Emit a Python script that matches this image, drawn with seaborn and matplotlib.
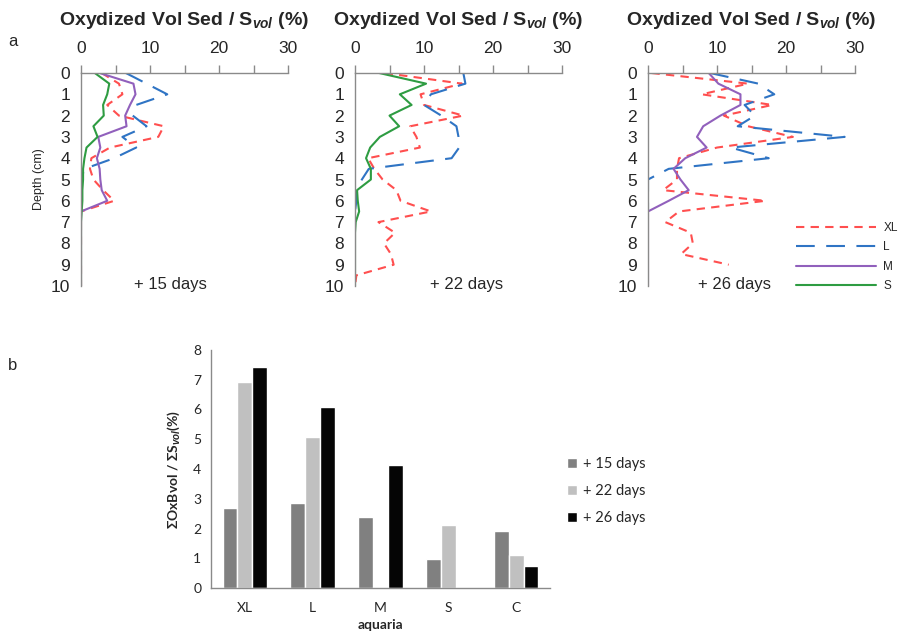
import numpy as np
import pandas as pd
import matplotlib
matplotlib.use("Agg")
import matplotlib.pyplot as plt
from matplotlib.lines import Line2D
from matplotlib.patches import Patch
import seaborn as sns

sns.set_style("white")
plt.rcParams['font.family'] = ['Liberation Sans', 'DejaVu Sans']
plt.rcParams['mathtext.fontset'] = 'custom'
plt.rcParams['mathtext.it'] = 'Liberation Sans:italic:bold'
plt.rcParams['mathtext.rm'] = 'Liberation Sans:bold'

nan = np.nan

# profundidades (cm)
depth = [0, 0.5, 1, 1.5, 2, 2.5, 3, 3.5, 4, 4.5, 5, 5.5, 6, 6.5, 7, 7.5, 8, 8.5, 9, 9.5, 10]

# + 15 days
XL_15 = [3.0, 5.5, 6.0, 3.8, 5.5, 12.0, 11.2, 4.2, 1.5, 1.3, 1.8, 3.2, 4.8, 0, 0, 0, 0, 0, 0, 0, 0]
L_15 = [6.5, 9.5, 12.5, 8.0, 7.5, 9.5, 6.0, 8.0, 4.8, 0.5, 0, 0, 0, nan, nan, nan, nan, nan, nan, nan, nan]
M_15 = [2.7, 7.6, 7.9, 7.1, 6.4, 6.6, 2.5, 2.8, 2.3, 2.7, 2.8, 3.0, 3.8, 0, 0, 0, 0, 0, 0, 0, 0]
S_15 = [2.0, 4.1, 3.8, 3.2, 3.3, 1.8, 2.4, 0.8, 0.5, 0.3, 0.3, 0.2, 0.2, 0.1, 0, 0, 0, 0, 0, 0, 0]

# + 22 days
XL_22 = [4.3, 15.5, 9.5, 10.0, 15.7, 8.0, 8.9, 9.4, 1.9, 2.8, 4.0, 6.0, 6.6, 11.0, 3.4, 5.8, 4.2, 5.2, 5.6, 0.2, 0]
L_22 = [15.7, 16.0, 11.0, 10.0, 12.5, 14.7, 15.0, 15.1, 14.0, 2.0, 1.0, 0.2, 0.2, 0, nan, nan, nan, nan, nan, nan, nan]
S_22 = [3.5, 10.3, 6.5, 8.2, 5.0, 6.4, 3.6, 2.2, 1.6, 2.3, 2.3, 0.3, 0.4, 0.6, 0.1, 0, 0, 0, 0, 0, 0]

# + 26 days
XL_26 = [0.5, 14.5, 7.8, 18.0, 11.0, 14.5, 21.0, 10.0, 4.5, 4.2, 4.2, 2.2, 17.0, 4.5, 2.5, 6.2, 6.5, 4.8, 11.7, nan, nan]
L_26 = [9.0, 16.0, 18.3, 14.0, 15.5, 13.0, 28.5, 12.0, 17.5, 3.0, 0, 0, 0, 0, nan, nan, nan, nan, nan, nan, nan]
M_26 = [8.8, 10.2, 13.4, 13.4, 10.5, 8.0, 7.1, 8.5, 5.4, 3.7, 4.7, 5.9, 3.0, 0, 0, 0, 0, 0, 0, 0, 0]

# grafico de barras
aquaria = ['XL', 'L', 'M', 'S', 'C']
tiempos = ['+ 15 days', '+ 22 days', '+ 26 days']
bar_15 = [2.68, 2.85, 2.38, 0.97, 1.90]
bar_22 = [6.94, 5.07, nan, 2.13, 1.12]
bar_26 = [7.42, 6.10, 4.12, nan, 0.75]

# estilos de cada serie
estilos = {
    'XL': dict(color='#FF4F4F', linestyle=(0, (4.0, 3.0))),
    'L': dict(color='#2F74C4', linestyle=(0, (9.0, 5.5))),
    'M': dict(color='#9160BC', linestyle='-'),
    'S': dict(color='#2E9C42', linestyle='-'),
}

paneles = [
    ('+ 15 days', 13.0, {'XL': XL_15, 'L': L_15, 'M': M_15, 'S': S_15}),
    ('+ 22 days', 16.1, {'XL': XL_22, 'L': L_22, 'S': S_22}),
    ('+ 26 days', 12.5, {'XL': XL_26, 'L': L_26, 'M': M_26}),
]
lefts = [81 / 905, 355 / 905, 648 / 905]

W, H = 905, 638
fig = plt.figure(figsize=(W / 100, H / 100), dpi=100)

gris = '#8a8a8a'
for i, (dias, xtxt, series) in enumerate(paneles):
    ax = fig.add_axes([lefts[i], 1 - 286 / H, 207 / W, 213 / H])
    for nombre in ['XL', 'L', 'M', 'S']:
        if nombre not in series:
            continue
        df = pd.DataFrame({'depth': depth, 'val': series[nombre]}).dropna()
        sns.lineplot(data=df, x='val', y='depth', orient='y', sort=False,
                     estimator=None, ax=ax, linewidth=1.5, **estilos[nombre])
    ax.set_xlim(0, 30)
    ax.set_ylim(10, 0)
    ax.xaxis.tick_top()
    ax.set_xticks([0, 10, 20, 30])
    ax.set_xticks([5, 15, 25], minor=True)
    ax.set_yticks(range(0, 11))
    ax.tick_params(axis='both', which='both', direction='out', length=5,
                   color=gris, width=1, labelsize=12.5, pad=3)
    ax.tick_params(axis='x', which='both', length=6, pad=6)
    for s in ['right', 'bottom']:
        ax.spines[s].set_visible(False)
    for s in ['left', 'top']:
        ax.spines[s].set_color(gris)
        ax.spines[s].set_linewidth(1)
    ax.set_xlabel('')
    ax.set_ylabel('Depth (cm)' if i == 0 else '', fontsize=9)
    ax.set_title(r'Oxydized Vol Sed / S$_{vol}$ (%)', fontsize=14,
                 fontweight='bold', pad=12)
    ax.text(xtxt, 9.95, dias, ha='center', va='center', fontsize=12)
    if i == 2:
        handles = [Line2D([], [], linewidth=1.5, **estilos[n]) for n in ['XL', 'L', 'M', 'S']]
        fig.legend(handles, ['XL', 'L', 'M', 'S'], loc='upper left',
                   bbox_to_anchor=(796 / W, 1 - 222 / H), frameon=False,
                   fontsize=8.5, handlelength=6.8, handletextpad=0.6,
                   labelspacing=0.62, borderpad=0, borderaxespad=0)

fig.text(8 / W, 1 - 42 / H, 'a', fontsize=12, va='center')
fig.text(8 / W, 1 - 366 / H, 'b', fontsize=12, va='center')

# barras
df_bar = pd.DataFrame({'aquaria': aquaria, tiempos[0]: bar_15,
                       tiempos[1]: bar_22, tiempos[2]: bar_26})
df_bar = df_bar.melt(id_vars='aquaria', var_name='tiempo', value_name='valor')

axb = fig.add_axes([211 / W, 1 - 588 / H, 339 / W, 238 / H])
colores = ['#808080', '#C0C0C0', '#050505']
sns.barplot(data=df_bar, x='aquaria', y='valor', hue='tiempo', order=aquaria,
            hue_order=tiempos, palette=colores, width=0.66, saturation=1,
            ax=axb, legend=False)
fam = ['Lato', 'DejaVu Sans']
axb.set_xlim(-0.5, 4.5)
axb.set_ylim(0, 8)
axb.set_yticks(range(0, 9))
axb.set_xticks(range(5))
axb.set_xticks([-0.5, 0.5, 1.5, 2.5, 3.5, 4.5], minor=True)
axb.tick_params(axis='x', which='major', length=0, pad=10)
axb.tick_params(axis='x', which='minor', length=4, color=gris, direction='out')
axb.tick_params(axis='y', length=4, color=gris, direction='out', pad=3)
for lab in axb.get_xticklabels() + axb.get_yticklabels():
    lab.set_family(fam)
    lab.set_fontsize(10)
for s in ['right', 'top']:
    axb.spines[s].set_visible(False)
for s in ['left', 'bottom']:
    axb.spines[s].set_color(gris)
    axb.spines[s].set_linewidth(1)
axb.set_xlabel('aquaria', fontsize=10, fontweight='bold', family=fam, labelpad=4)
axb.set_ylabel(r'ΣOxBvol / ΣS$_{vol}$(%)', fontsize=10, fontweight='bold',
               family=fam, labelpad=8)

parches = [Patch(facecolor=c) for c in colores]
fig.legend(parches, tiempos, loc='upper left', bbox_to_anchor=(567 / W, 1 - 457 / H),
           frameon=False, prop={'family': fam, 'size': 10.5}, handlelength=0.7,
           handleheight=0.7, handletextpad=0.4, labelspacing=0.9,
           borderpad=0, borderaxespad=0)

fig.savefig('out.png', dpi=100)
